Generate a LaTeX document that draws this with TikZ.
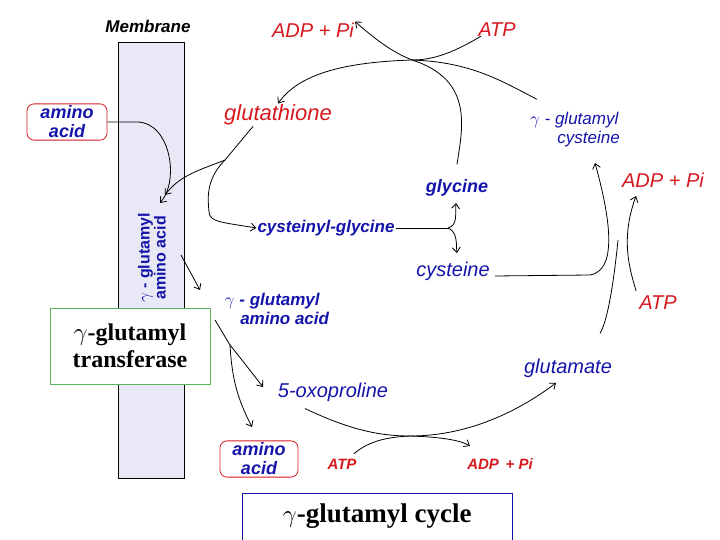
\documentclass[tikz,border=0pt]{standalone}
\usepackage{fontspec}
\setmainfont{Liberation Serif}
\newfontfamily\lsans{Liberation Sans}
\usetikzlibrary{arrows.meta}
\definecolor{blu}{RGB}{20,20,170}
\definecolor{rd}{RGB}{215,25,30}
\definecolor{mem}{RGB}{232,232,246}
\definecolor{grn}{RGB}{90,180,90}
\begin{document}
\begin{tikzpicture}[x=1pt,y=-1pt,
  lab/.style={font=\lsans\itshape\fontsize{20}{20}\selectfont,inner sep=1pt,align=center},
  bl/.style={lab,text=blu},
  blb/.style={lab,text=blu,font=\lsans\bfseries\itshape\fontsize{18}{19}\selectfont},
  rl/.style={lab,text=rd},
  ar/.style={-{Straight Barb[length=5pt,width=8pt]},line width=0.8pt,black},
  ln/.style={line width=0.8pt,black}]
\useasboundingbox (0,0) rectangle (720,540);
% membrane
\draw[fill=mem,draw=black,line width=0.8pt] (118,42) rectangle (184,478);
\node (mt) at (148,26) {\lsans\bfseries\itshape\fontsize{17}{17}\selectfont Membrane};
\node[rotate=90,text=blu,font=\lsans\bfseries\fontsize{16}{16}\selectfont,align=center] (gm) at (152,258) {$\gamma$ - glutamyl\\amino acid};
% labels
\node[blb,draw=rd,rounded corners=7pt,inner sep=2pt,thick,minimum width=80pt] (aa1) at (67,122) {amino\\acid};
\node[rl,font=\lsans\itshape\fontsize{22}{22}\selectfont] (gsh) at (278,115) {glutathione};
\node[rl] (adp1) at (313,30) {ADP + Pi};
\node[rl] (atp1) at (497,30) {ATP};
\node[bl,font=\lsans\itshape\fontsize{17}{19}\selectfont,align=left] (gcys) at (575,130) {$\gamma$ - glutamyl\\\hspace*{1.6em}cysteine};
\node[blb] (gly) at (457,188) {glycine};
\node[blb,font=\lsans\bfseries\itshape\fontsize{17}{17}\selectfont] (cg) at (326,228) {cysteinyl-glycine};
\node[bl] (cys) at (453,271) {cysteine};
\node[rl] (adp2) at (663,180) {ADP + Pi};
\node[rl] (atp2) at (658,303) {ATP};
\node[blb,font=\lsans\bfseries\itshape\fontsize{17}{19}\selectfont,align=left] (gaa) at (277,309) {$\gamma$ - glutamyl\\\hspace*{0.9em}amino acid};
\node[bl,font=\lsans\itshape\fontsize{20}{20}\selectfont] (glu) at (568,368) {glutamate};
\node[bl,font=\lsans\itshape\fontsize{20}{20}\selectfont] (oxo) at (333,392) {5-oxoproline};
\node[blb,draw=rd,rounded corners=7pt,inner sep=2pt,thick,minimum width=78pt] (aa2) at (259,459) {amino\\acid};
\node[rl,font=\lsans\bfseries\itshape\fontsize{15}{15}\selectfont] (atp3) at (342,464) {ATP};
\node[rl,font=\lsans\bfseries\itshape\fontsize{15}{15}\selectfont] (adp3) at (500,464) {ADP\, + Pi};
% boxes
\node[draw=grn,fill=white,minimum width=160pt,minimum height=76pt,align=center,font=\bfseries\fontsize{24}{27}\selectfont] (gt) at (130,346) {$\gamma$-glutamyl\\transferase};
\node[draw=blu,fill=white,minimum width=270pt,minimum height=60pt,font=\bfseries\fontsize{27}{27}\selectfont,anchor=north west,text depth=20pt] (gc) at (242,493) {$\gamma$-glutamyl cycle};
% top arrows
\coordinate (j1) at (412,60);
\draw[ar] (gcys.north west) ++(8,-12) .. controls (500,80) and (470,62) .. (j1) .. controls (350,62) and (300,72) .. (gsh.north);
\draw[ln] (atp1.south west) ++(4,-2) .. controls (450,55) and (430,60) .. (j1);
\draw[ar] (j1) .. controls (400,55) and (385,48) .. (adp1.north east);
\draw[ln] (gly.north) ++(0,-14) .. controls (462,130) and (475,80) .. (j1);
% amino acid in
\draw[ar] (aa1.east) -- (137,122) .. controls (170,122) and (180,180) .. (160,203);
\draw[ar] (gsh.south west) ++(30,0) -- (225,160) .. controls (200,170) and (180,175) .. (165,195);
\draw[ar] (225,160) .. controls (205,180) and (208,200) .. (209,212) .. controls (210,222) and (220,222) .. (cg.west);
% fork
\draw[ln] (cg.east) -- (448,228);
\draw[ar] (448,228) .. controls (458,225) and (455,215) .. (456,203);
\draw[ar] (448,228) .. controls (458,232) and (456,245) .. (457,253);
% right side
\draw[ar] (cys.east) ++(4,5) -- (590,275) .. controls (620,270) and (608,210) .. (595,163);
\coordinate (j2) at (618,240);
\draw[ar] (atp2.north west) ++(-2,-4) .. controls (630,270) and (620,240) .. (636,196);
\draw[ln] (glu.north) ++(32,-24) .. controls (608,320) and (614,280) .. (j2);
% lower left
\draw[ar] (181,255) -- (200,290);
\draw[ln] (215,320) -- (230,345);
\draw[ar] (230,345) -- (238,355) -- (263,387);
\draw[ar] (230,345) .. controls (232,380) and (238,400) .. (252,427);
% bottom
\coordinate (j3) at (410,436);
\draw[ar] (oxo.south) ++(-28,6) .. controls (350,430) and (380,436) .. (j3) .. controls (470,436) and (520,410) .. (556,383);
\draw[ar] (atp3.north) ++(12,-4) .. controls (370,440) and (390,437) .. (j3) .. controls (440,437) and (460,440) .. (470,446);
\end{tikzpicture}
\end{document}
